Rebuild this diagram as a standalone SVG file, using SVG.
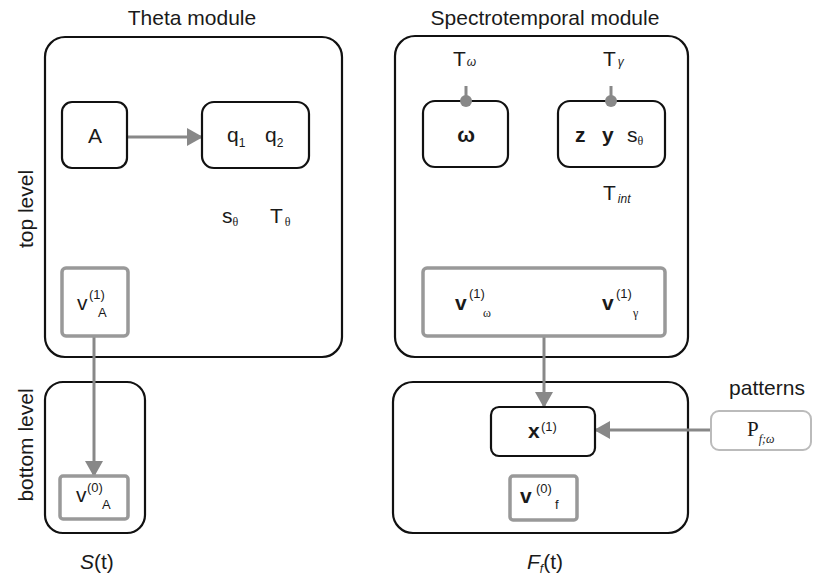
<svg xmlns="http://www.w3.org/2000/svg" width="813" height="581" viewBox="0 0 813 581">
  <style>
    text { font-family: "Liberation Sans", Arial, sans-serif; fill: #1a1a1a; }
    .lbl { font-size: 21px; }
    .main { font-size: 21px; }
    .sup { font-size: 13px; }
    .sub { font-size: 12px; }
    .ser { font-family: "Liberation Serif", "Times New Roman", serif; }
    .it { font-style: italic; }
    .b { font-weight: bold; }
    .module { fill: none; stroke: #111; stroke-width: 2.2; }
    .node { fill: #fff; stroke: #111; stroke-width: 2.2; }
    .var { fill: #fff; stroke: #999; stroke-width: 3.5; }
    .ext { fill: #fff; stroke: #bbb; stroke-width: 2; }
    .conn { fill: none; stroke: #888; stroke-width: 3; }
    .pin { fill: #888; }
  </style>
  <defs>
    <marker id="head" markerUnits="userSpaceOnUse" markerWidth="16" markerHeight="18" viewBox="0 0 16 18" refX="15" refY="9" orient="auto">
      <path d="M0,0 L16,9 L0,18 Z" fill="#888"/>
    </marker>
  </defs>

  <!-- column and row captions -->
  <text class="lbl" x="192" y="25" text-anchor="middle">Theta module</text>
  <text class="lbl" x="545" y="25" text-anchor="middle">Spectrotemporal module</text>
  <text class="lbl" transform="translate(33,209) rotate(-90)" text-anchor="middle">top level</text>
  <text class="lbl" transform="translate(33,445) rotate(-90)" text-anchor="middle">bottom level</text>

  <!-- module frames -->
  <g id="theta-top"><rect class="module" x="45" y="37" width="297" height="320" rx="20"/></g>
  <g id="theta-bottom"><rect class="module" x="45" y="382" width="100" height="151" rx="18"/></g>
  <g id="spectro-top"><rect class="module" x="395" y="36" width="293" height="321" rx="20"/></g>
  <g id="spectro-bottom"><rect class="module" x="393" y="382" width="295" height="151" rx="20"/></g>

  <!-- connectors -->
  <g id="connectors">
    <line class="conn" x1="127" y1="137" x2="202" y2="137" marker-end="url(#head)"/>
    <line class="conn" x1="94" y1="336" x2="94" y2="476" marker-end="url(#head)"/>
    <line class="conn" x1="544" y1="336" x2="544" y2="407" marker-end="url(#head)"/>
    <line class="conn" x1="711" y1="430" x2="595" y2="430" marker-end="url(#head)"/>
    <line class="conn" x1="466" y1="86" x2="466" y2="101" stroke-width="2"/>
    <line class="conn" x1="611" y1="86" x2="611" y2="101" stroke-width="2"/>
  </g>

  <!-- theta module nodes -->
  <g id="node-A">
    <rect class="node" x="62" y="102" width="65" height="66" rx="10"/>
    <text class="main" x="95" y="143" text-anchor="middle">A</text>
  </g>
  <g id="node-q">
    <rect class="node" x="202" y="102" width="107" height="66" rx="12"/>
    <text class="main" x="227" y="142">q<tspan class="sub" dy="5">1</tspan></text>
    <text class="main" x="265" y="142">q<tspan class="sub" dy="5">2</tspan></text>
  </g>
  <g id="params-theta">
    <text class="main" x="222" y="223">s<tspan class="sub ser" dy="3">θ</tspan></text>
    <text class="main" x="270" y="223">T<tspan class="sub ser" dx="2" dy="3">θ</tspan></text>
  </g>
  <g id="node-v1A">
    <rect class="var" x="62" y="268" width="66" height="68" rx="4"/>
    <text class="main" x="77" y="310">v</text>
    <text class="sup" x="89" y="299">(1)</text>
    <text class="sup" x="98" y="317">A</text>
  </g>
  <g id="node-v0A">
    <rect class="var" x="60" y="476" width="68" height="43" rx="3"/>
    <text class="main" x="76" y="502">v</text>
    <text class="sup" x="87" y="492">(0)</text>
    <text class="sup" x="102" y="509">A</text>
  </g>
  <text class="main" x="80" y="569"><tspan class="it">S</tspan>(t)</text>

  <!-- spectrotemporal module nodes -->
  <g id="node-omega">
    <text class="main" x="453" y="66">T<tspan class="sub it" dx="1">ω</tspan></text>
    <rect class="node" x="423" y="101" width="85" height="66" rx="12"/>
    <circle class="pin" cx="466" cy="101" r="6"/>
    <text class="main b" x="466" y="142" text-anchor="middle">ω</text>
  </g>
  <g id="node-zys">
    <text class="main" x="603" y="66">T<tspan class="sub it" dx="2">γ</tspan></text>
    <rect class="node" x="558" y="101" width="107" height="66" rx="12"/>
    <circle class="pin" cx="611" cy="101" r="6"/>
    <text class="main b" x="575" y="142">z</text>
    <text class="main b" x="602" y="142">y</text>
    <text class="main" x="627" y="142">s<tspan class="sub ser" dy="3">θ</tspan></text>
    <text class="main" x="603" y="200">T<tspan class="sub it" dx="2" dy="3">int</tspan></text>
  </g>
  <g id="node-v1">
    <rect class="var" x="423" y="268" width="242" height="68" rx="4"/>
    <text class="main b" x="455" y="310">v</text>
    <text class="sup" x="469" y="298">(1)</text>
    <text class="sub ser" x="483" y="317">ω</text>
    <text class="main b" x="602" y="310">v</text>
    <text class="sup" x="616" y="298">(1)</text>
    <text class="sub ser" x="633" y="317">γ</text>
  </g>
  <g id="node-x1">
    <rect class="node" x="491" y="407" width="104" height="49" rx="8"/>
    <text class="main b" x="528" y="438">x</text>
    <text class="sup" x="541" y="431">(1)</text>
  </g>
  <g id="node-v0f">
    <rect class="var" x="510" y="476" width="67" height="44" rx="3"/>
    <text class="main b" x="520" y="503">v</text>
    <text class="sup" x="536" y="493">(0)</text>
    <text class="sup" x="555" y="509">f</text>
  </g>
  <text class="main" x="527" y="569"><tspan class="it">F</tspan><tspan class="sub it" dy="4">f</tspan><tspan dy="-4">(t)</tspan></text>

  <!-- external pattern input -->
  <g id="node-patterns">
    <text class="lbl" x="767" y="395" text-anchor="middle">patterns</text>
    <rect class="ext" x="711" y="411" width="100" height="39" rx="8"/>
    <text class="main ser" x="747" y="436">P<tspan class="sub it" font-size="10" dy="7">f;ω</tspan></text>
  </g>
</svg>
